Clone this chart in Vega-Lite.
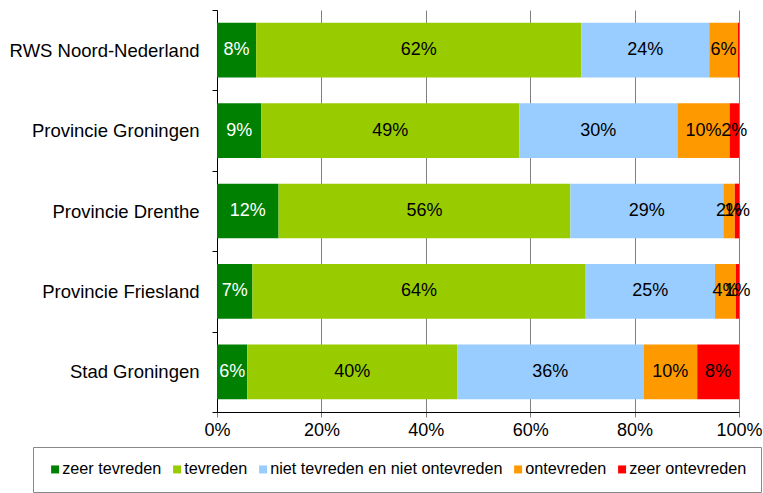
{
  "$schema": "https://vega.github.io/schema/vega-lite/v6.json",
  "width": 522,
  "height": 402,
  "autosize": {"type": "none"},
  "padding": {"left": 217, "top": 10, "right": 24, "bottom": 81},
  "background": "white",
  "config": {
    "font": "Liberation Sans",
    "view": {"stroke": null},
    "axis": {"labelFont": "Liberation Sans", "labelFontSize": 18, "labelColor": "black"}
  },
  "data": {
    "values": [
      {"org": "RWS Noord-Nederland", "resp": "zeer tevreden", "k": 1, "v": 7.5, "label": "8%"},
      {"org": "RWS Noord-Nederland", "resp": "tevreden", "k": 2, "v": 62.3, "label": "62%"},
      {"org": "RWS Noord-Nederland", "resp": "niet tevreden en niet ontevreden", "k": 3, "v": 24.5, "label": "24%"},
      {"org": "RWS Noord-Nederland", "resp": "ontevreden", "k": 4, "v": 5.5, "label": "6%"},
      {"org": "RWS Noord-Nederland", "resp": "zeer ontevreden", "k": 5, "v": 0.2, "label": ""},
      {"org": "Provincie Groningen", "resp": "zeer tevreden", "k": 1, "v": 8.5, "label": "9%"},
      {"org": "Provincie Groningen", "resp": "tevreden", "k": 2, "v": 49.4, "label": "49%"},
      {"org": "Provincie Groningen", "resp": "niet tevreden en niet ontevreden", "k": 3, "v": 30.3, "label": "30%"},
      {"org": "Provincie Groningen", "resp": "ontevreden", "k": 4, "v": 10.0, "label": "10%"},
      {"org": "Provincie Groningen", "resp": "zeer ontevreden", "k": 5, "v": 1.8, "label": "2%"},
      {"org": "Provincie Drenthe", "resp": "zeer tevreden", "k": 1, "v": 11.8, "label": "12%"},
      {"org": "Provincie Drenthe", "resp": "tevreden", "k": 2, "v": 55.9, "label": "56%"},
      {"org": "Provincie Drenthe", "resp": "niet tevreden en niet ontevreden", "k": 3, "v": 29.3, "label": "29%"},
      {"org": "Provincie Drenthe", "resp": "ontevreden", "k": 4, "v": 2.2, "label": "2%"},
      {"org": "Provincie Drenthe", "resp": "zeer ontevreden", "k": 5, "v": 0.8, "label": "1%"},
      {"org": "Provincie Friesland", "resp": "zeer tevreden", "k": 1, "v": 6.8, "label": "7%"},
      {"org": "Provincie Friesland", "resp": "tevreden", "k": 2, "v": 63.9, "label": "64%"},
      {"org": "Provincie Friesland", "resp": "niet tevreden en niet ontevreden", "k": 3, "v": 24.8, "label": "25%"},
      {"org": "Provincie Friesland", "resp": "ontevreden", "k": 4, "v": 4.0, "label": "4%"},
      {"org": "Provincie Friesland", "resp": "zeer ontevreden", "k": 5, "v": 0.6, "label": "1%"},
      {"org": "Stad Groningen", "resp": "zeer tevreden", "k": 1, "v": 5.8, "label": "6%"},
      {"org": "Stad Groningen", "resp": "tevreden", "k": 2, "v": 40.2, "label": "40%"},
      {"org": "Stad Groningen", "resp": "niet tevreden en niet ontevreden", "k": 3, "v": 35.7, "label": "36%"},
      {"org": "Stad Groningen", "resp": "ontevreden", "k": 4, "v": 10.3, "label": "10%"},
      {"org": "Stad Groningen", "resp": "zeer ontevreden", "k": 5, "v": 8.0, "label": "8%"}
    ]
  },
  "encoding": {
    "y": {
      "field": "org",
      "type": "nominal",
      "sort": ["RWS Noord-Nederland", "Provincie Groningen", "Provincie Drenthe", "Provincie Friesland", "Stad Groningen"],
      "scale": {"paddingInner": 0, "paddingOuter": 0},
      "axis": {
        "title": null,
        "tickBand": "extent",
        "tickSize": 5,
        "tickColor": "black",
        "domainColor": "black",
        "labelPadding": 13,
        "labelFontSize": 18.5,
        "labelLimit": 0,
        "grid": false
      }
    }
  },
  "layer": [
    {
      "mark": {"type": "bar", "height": {"band": 0.68}},
      "encoding": {
        "x": {
          "field": "v",
          "type": "quantitative",
          "stack": "normalize",
          "scale": {"domain": [0, 1], "nice": false},
          "axis": {
            "title": null,
            "format": ".0%",
            "values": [0, 0.2, 0.4, 0.6, 0.8, 1],
            "grid": true,
            "gridColor": "#808080",
            "gridWidth": 1,
            "gridOpacity": 1,
            "tickColor": "#808080",
            "tickSize": 5,
            "domainColor": "black",
            "labelFlush": false,
            "labelPadding": 4
          }
        },
        "color": {
          "field": "resp",
          "type": "nominal",
          "scale": {
            "domain": ["zeer tevreden", "tevreden", "niet tevreden en niet ontevreden", "ontevreden", "zeer ontevreden"],
            "range": ["#008000", "#99CC00", "#99CCFF", "#FF9900", "#FF0000"]
          },
          "legend": {
            "title": null,
            "orient": "none",
            "legendX": -184,
            "legendY": 437,
            "direction": "horizontal",
            "columns": 5,
            "strokeColor": "#888888",
            "fillColor": "white",
            "padding": 14,
            "symbolType": "square",
            "symbolSize": 64,
            "symbolStrokeWidth": 0,
            "symbolOpacity": 1,
            "labelFont": "Liberation Sans",
            "labelFontSize": 16.2,
            "labelLimit": 0,
            "labelColor": "black",
            "labelOffset": -1,
            "columnPadding": 7
          }
        },
        "order": {"field": "k", "type": "quantitative"}
      }
    },
    {
      "mark": {"type": "text", "font": "Liberation Sans", "fontSize": 18, "baseline": "middle", "align": "center"},
      "encoding": {
        "x": {"field": "v", "type": "quantitative", "stack": "normalize", "bandPosition": 0.5},
        "detail": {"field": "resp", "type": "nominal"},
        "order": {"field": "k", "type": "quantitative"},
        "text": {"field": "label", "type": "nominal"},
        "color": {
          "condition": {"test": "datum.resp === 'zeer tevreden'", "value": "white"},
          "value": "black"
        }
      }
    }
  ]
}
